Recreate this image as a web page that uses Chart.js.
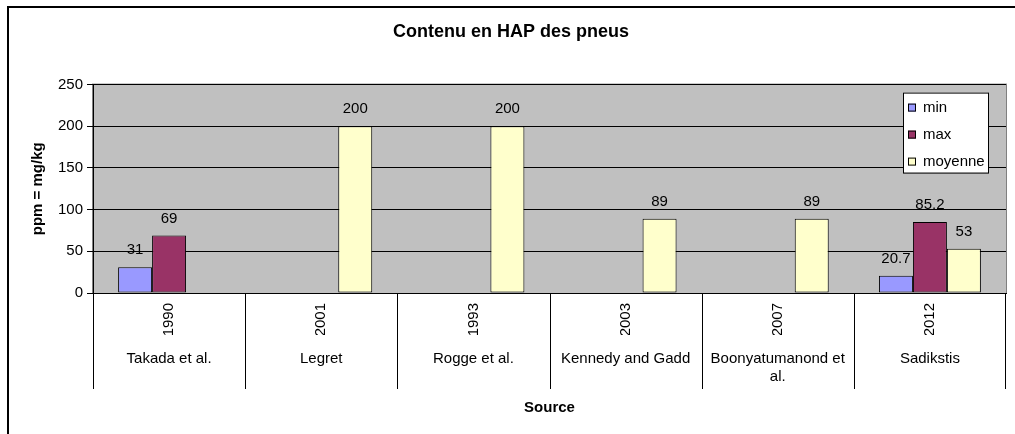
<!DOCTYPE html>
<html>
<head>
<meta charset="utf-8">
<script src="https://cdn.jsdelivr.net/npm/chart.js@4/dist/chart.umd.min.js"></script>
<style>
  html, body { margin: 0; padding: 0; background: #fff; overflow: hidden; }
  #wrap { position: absolute; left: 0; top: 0; width: 1015px; height: 434px; }
</style>
</head>
<body>
<div id="wrap"><canvas id="chart" width="1015" height="434"></canvas></div>
<script>
// data
var years = ['1990', '2001', '1993', '2003', '2007', '2012'];
var sources = ['Takada et al.', 'Legret', 'Rogge et al.', 'Kennedy and Gadd', ['Boonyatumanond et', 'al.'], 'Sadikstis'];
var minVals = [31, null, null, null, null, 20.7];
var maxVals = [69, null, null, null, null, 85.2];
var moyVals = [null, 200, 200, 89, 89, 53];
var yTicks = [0, 50, 100, 150, 200, 250];

Chart.defaults.font.family = '"Liberation Sans", Arial, sans-serif';
Chart.defaults.font.size = 15;
Chart.defaults.color = '#000';

// gray plot area + outer frame
var backdrop = {
    id: 'backdrop',
    beforeDraw: function(chart) {
        var c = chart.ctx, a = chart.chartArea;
        c.save();
        c.fillStyle = '#fff';
        c.fillRect(0, 0, chart.width, chart.height);
        c.strokeStyle = '#000';
        c.lineWidth = 2;
        c.beginPath();
        c.moveTo(8, chart.height);
        c.lineTo(8, 7);
        c.lineTo(chart.width, 7);
        c.stroke();
        c.fillStyle = '#c0c0c0';
        c.fillRect(a.left, a.top, a.right - a.left, a.bottom - a.top);
        c.strokeStyle = '#808080';
        c.lineWidth = 1;
        c.strokeRect(a.left - 0.5, a.top - 0.5, a.right - a.left + 1, a.bottom - a.top + 1);
        c.restore();
    }
};

// category separators below the axis, value labels and the boxed legend
var extras = {
    id: 'extras',
    afterDraw: function(chart) {
        var c = chart.ctx, a = chart.chartArea;
        var xs = chart.scales.x;
        var half = (xs.getPixelForValue(1) - xs.getPixelForValue(0)) / 2;
        c.save();
        c.strokeStyle = '#000';
        c.lineWidth = 1;
        for (var i = 0; i <= years.length; i++) {
            var px = Math.round(xs.getPixelForValue(i) - half) + 0.5;
            if (i == years.length) px = Math.round(xs.getPixelForValue(i - 1) + half) - 0.5;
            c.beginPath();
            c.moveTo(px, a.bottom);
            c.lineTo(px, a.bottom + 96);
            c.stroke();
        }

        // labels above the bars
        c.font = '15px "Liberation Sans", Arial, sans-serif';
        c.fillStyle = '#000';
        c.textAlign = 'center';
        c.textBaseline = 'middle';
        chart.data.datasets.forEach(function(ds, di) {
            var meta = chart.getDatasetMeta(di);
            meta.data.forEach(function(bar, j) {
                var v = ds.data[j];
                if (v === null || v === undefined) return;
                c.fillText(String(v), bar.x, bar.y - 17);
            });
        });

        // legend box
        var lx = a.right - 103, ly = a.top + 8, lw = 85, lh = 80;
        c.fillStyle = '#fff';
        c.fillRect(lx, ly, lw, lh);
        c.strokeRect(lx + 0.5, ly + 0.5, lw, lh);
        c.textAlign = 'left';
        chart.data.datasets.forEach(function(ds, di) {
            var cy = ly + 15 + di * 27;
            c.fillStyle = ds.backgroundColor;
            c.fillRect(lx + 5, cy - 4, 8, 8);
            c.strokeStyle = '#000';
            c.strokeRect(lx + 5.5, cy - 3.5, 7, 7);
            c.fillStyle = '#000';
            c.fillText(ds.label, lx + 20, cy);
        });
        c.restore();
    }
};

var ctx = document.getElementById('chart').getContext('2d');
var chart = new Chart(ctx, {
    type: 'bar',
    data: {
        labels: years,
        datasets: [
            { label: 'min', data: minVals, backgroundColor: '#9999ff' },
            { label: 'max', data: maxVals, backgroundColor: '#993366' },
            { label: 'moyenne', data: moyVals, backgroundColor: '#ffffcc' }
        ]
    },
    options: {
        responsive: false,
        devicePixelRatio: 1,
        animation: false,
        layout: { padding: { left: 16, right: 9, top: 0, bottom: 0 } },
        datasets: {
            bar: {
                borderColor: '#000',
                borderWidth: 1,
                borderSkipped: false,
                categoryPercentage: 0.67,
                barPercentage: 1.0
            }
        },
        plugins: {
            legend: { display: false },
            tooltip: { enabled: false },
            title: {
                display: true,
                text: 'Contenu en HAP des pneus',
                font: { size: 18, weight: 'bold' },
                color: '#000',
                padding: { top: 21, bottom: 42 }
            }
        },
        scales: {
            x: {
                position: 'bottom',
                weight: 0,
                offset: true,
                grid: { display: false, drawTicks: false },
                border: { display: true, color: '#000' },
                ticks: { autoSkip: false, minRotation: 90, maxRotation: 90, padding: 10 },
                afterFit: function(s) { s.height = 42; }
            },
            x2: {
                type: 'category',
                labels: sources,
                position: 'bottom',
                weight: 1,
                offset: true,
                grid: { display: false, drawTicks: false },
                border: { display: false },
                ticks: { autoSkip: false, maxRotation: 0, padding: 15 },
                title: {
                    display: true,
                    text: 'Source',
                    font: { size: 15, weight: 'bold' },
                    padding: { top: 17, bottom: 17 }
                },
                afterFit: function(s) { s.height = 99; }
            },
            y: {
                min: 0,
                max: 250,
                afterBuildTicks: function(s) {
                    s.ticks = yTicks.map(function(v) { return { value: v }; });
                },
                grid: { color: '#000', tickColor: '#000', tickLength: 6 },
                border: { display: true, color: '#000' },
                ticks: { padding: 4 },
                title: {
                    display: true,
                    text: 'ppm = mg/kg',
                    font: { size: 15, weight: 'bold' },
                    padding: { top: 13, bottom: 0 }
                },
                afterFit: function(s) { s.width = 77; }
            }
        }
    },
    plugins: [backdrop, extras]
});
</script>
</body>
</html>
